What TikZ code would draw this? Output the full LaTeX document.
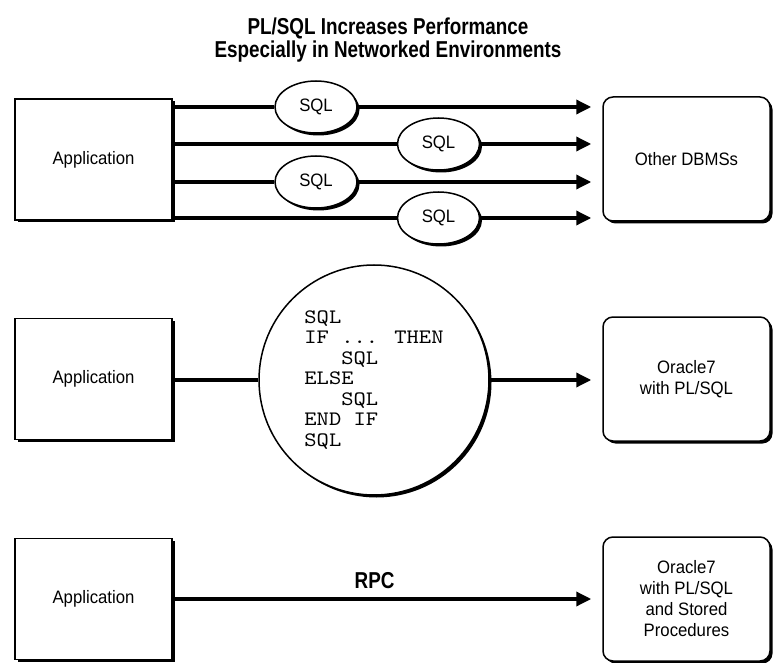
\documentclass[tikz,border=0pt]{standalone}
\usepackage{fontspec}
\usepackage{tikz}
\usetikzlibrary{positioning, shapes.geometric, shadows, arrows.meta, calc}
\newfontfamily\labelfont{Liberation Sans}[FakeStretch=0.93]
\newfontfamily\headfont{Liberation Sans}[FakeStretch=0.82]
\newfontfamily\codefont{lmmono10-regular.otf}[FakeStretch=1.14]

\tikzset{
	shadowed/.style={drop shadow={shadow xshift=2.5pt, shadow yshift=-2.5pt, fill=black, opacity=1}},
	textfont/.style={font=\labelfont\fontsize{18}{21}\selectfont},
	appbox/.style={draw, line width=1.5pt, fill=white, shadowed, minimum width=157pt, minimum height=121pt, inner sep=0pt, align=center, textfont},
	dbbox/.style={appbox, rounded corners=10pt, minimum width=167pt, minimum height=124pt},
	sqloval/.style={ellipse, draw, line width=1.5pt, fill=white, shadowed, minimum width=82pt, minimum height=52pt, inner sep=0pt, textfont},
	codeball/.style={circle, draw, line width=1.5pt, fill=white, shadowed, minimum size=230pt, inner sep=0pt, align=left, font=\codefont\fontsize{20.5}{20.5}\selectfont},
	headline/.style={align=center, inner sep=0pt, font=\headfont\bfseries\fontsize{23}{21}\selectfont},
	rpclabel/.style={inner sep=0pt, font=\headfont\bfseries\fontsize{23}{23}\selectfont},
	link/.style={line width=3.4pt},
	flow/.style={link, -{Triangle[length=15pt, width=14pt]}, shorten >=11pt},
}

\begin{document}
\begin{tikzpicture}[x=1pt, y=-1pt]
				
				\useasboundingbox (0,0) rectangle (774,663);
				
				\node [headline] (title) at (388,40) {PL/SQL Increases Performance\\Especially in Networked Environments};
				
				\node [appbox] (app1) at (93.5,159.5) {Application};
				\node [dbbox] (db1) at (686.5,159) {Other DBMSs};
				\node [sqloval] (sql1) at (316,107) {SQL};
				\node [sqloval] (sql2) at (438.5,144) {SQL};
				\node [sqloval] (sql3) at (316,182) {SQL};
				\node [sqloval] (sql4) at (438.5,218) {SQL};
				
				\foreach \s in {sql1, sql2, sql3, sql4} {
					\draw [link] (app1.east |- \s) -- (\s.west);
					\draw [flow] (\s.east) -- (\s -| db1.west);
				}
				
				\node [appbox] (app2) at (93.5,379) {Application};
				\node [codeball] (code) at (374,380) {SQL\\IF ... THEN\\\hphantom{XXX}SQL\\ELSE\\\hphantom{XXX}SQL\\END IF\\SQL};
				\node [dbbox] (db2) at (686.5,379) {Oracle7\\with PL/SQL};
				
				\draw [link] (app2.east |- code.west) -- (code.west);
				\draw [flow] (code.east) -- (code.east -| db2.west);
				
				\node [appbox] (app3) at (93.5,599) {Application};
				\node [dbbox] (db3) at (686.5,599) {Oracle7\\with PL/SQL\\and Stored\\Procedures};
				
				\draw [flow] (app3.east) -- node [pos=0.47, above=9pt, rpclabel] (rpc) {RPC} (db3.west);
		\end{tikzpicture}
\end{document}
